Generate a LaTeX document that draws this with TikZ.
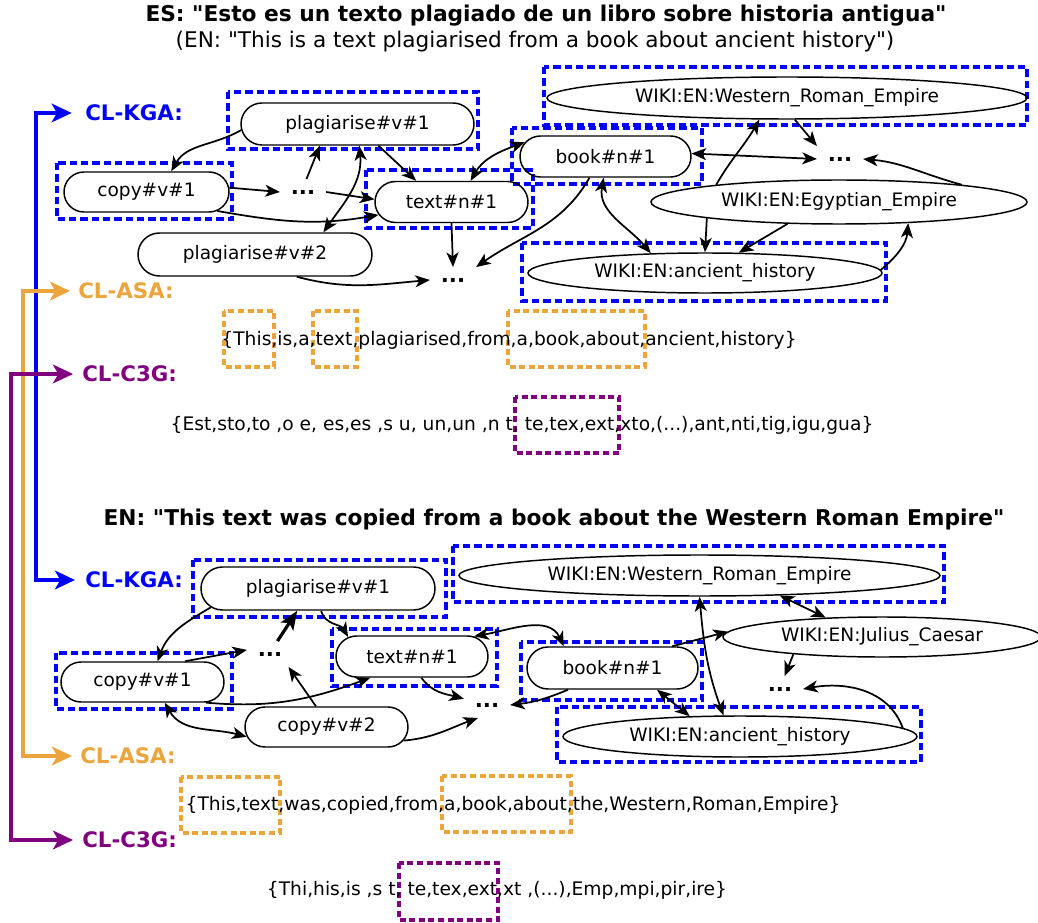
\documentclass[tikz,border=0pt]{standalone}
\usepackage{fontspec}
\setmainfont{DejaVu Sans}[Ligatures=TeXOff]
\usetikzlibrary{shapes.geometric, shapes.misc, arrows.meta, calc}
\definecolor{kgablue}{RGB}{0,0,255}
\definecolor{asaorange}{RGB}{235,165,60}
\definecolor{c3gpurple}{RGB}{128,0,128}

\begin{document}
\begin{tikzpicture}[x=0.75pt, y=-0.75pt,
        >={Stealth[length=11pt, width=9pt, inset=3pt]},
        sense/.style={draw, line width=1.1pt, rounded rectangle, inner sep=0pt, font=\fontsize{13.9}{16}\selectfont},
        page/.style={draw, line width=1.1pt, ellipse, inner sep=0pt, font=\fontsize{13.9}{16}\selectfont},
        dots/.style={inner sep=8pt, font=\fontsize{16}{18}\selectfont\bfseries},
        rel/.style={line width=1.3pt},
        method/.style={anchor=west, inner sep=0pt, font=\fontsize{16}{18}\selectfont\bfseries},
        bus/.style={line width=2.6pt, {Stealth[length=15pt, width=14pt, inset=4pt]}-{Stealth[length=15pt, width=14pt, inset=4pt]}},
        tokens/.style={font=\fontsize{14}{16}\selectfont},
        kgabox/.style={draw=kgablue, line width=2.5pt, dash pattern=on 5.5pt off 3pt},
        asabox/.style={draw=asaorange, line width=2.3pt, dash pattern=on 4.5pt off 2.7pt},
        c3gbox/.style={draw=c3gpurple, line width=2.3pt, dash pattern=on 4.5pt off 2.7pt}]
        \useasboundingbox (0,0) rectangle (1038,923);
        %titoli
        \node[font=\fontsize{16.3}{19}\selectfont\bfseries] (titleES) at (546,16) {ES: "Esto es un texto plagiado de un libro sobre historia antigua"};
        \node[font=\fontsize{16.2}{19}\selectfont] (titleTr) at (535,42) {(EN: "This is a text plagiarised from a book about ancient history")};
        \node[font=\fontsize{16.3}{19}\selectfont\bfseries] (titleEN) at (554,520) {EN: "This text was copied from a book about the Western Roman Empire"};
        %etichette dei metodi
        \node[method, kgablue] (kgaA) at (85,113) {CL-KGA:};
        \node[method, asaorange] (asaA) at (78,291) {CL-ASA:};
        \node[method, c3gpurple] (c3gA) at (82,374) {CL-C3G:};
        \node[method, kgablue] (kgaC) at (85,580) {CL-KGA:};
        \node[method, asaorange] (asaC) at (80,756) {CL-ASA:};
        \node[method, c3gpurple] (c3gC) at (82,840) {CL-C3G:};
        \draw[bus, kgablue, shorten <=10pt, shorten >=7.5pt] (kgaA.west) -- ++(-49,0) |- (kgaC.west);
        \draw[bus, asaorange, shorten <=6pt, shorten >=6pt] (asaA.west) -- ++(-55,0) |- (asaC.west);
        \draw[bus, c3gpurple, shorten <=6.75pt, shorten >=6.75pt] (c3gA.west) -- ++(-71,0) |- (c3gC.west);
        %riquadri KGA in alto
        \draw[kgabox] (228,92) rectangle (478,149);
        \draw[kgabox] (57,163) rectangle (232,219);
        \draw[kgabox] (366,170) rectangle (533,228);
        \draw[kgabox] (512,128) rectangle (702,184);
        \draw[kgabox] (544,67) rectangle (1027,125);
        \draw[kgabox] (522,243) rectangle (886,301);
        %grafo in alto
        \node[sense, minimum width=174.75pt, minimum height=31.5pt] (plagA) at (357.5,124) {plagiarise\#v\#1};
        \node[sense, minimum width=123.75pt, minimum height=30pt] (copyA) at (146.5,192) {copy\#v\#1};
        \node[sense, minimum width=114.75pt, minimum height=30.75pt] (textA) at (451.5,202) {text\#n\#1};
        \node[sense, minimum width=175.5pt, minimum height=32.25pt] (plagB) at (255,254.5) {plagiarise\#v\#2};
        \node[sense, minimum width=128.25pt, minimum height=30.75pt] (bookA) at (605.5,156.5) {book\#n\#1};
        \node[page, minimum width=360pt, minimum height=31.5pt] (wreA) at (787,98) {WIKI:EN:Western\_Roman\_Empire};
        \node[page, minimum width=282pt, minimum height=33pt] (egyA) at (839,202) {WIKI:EN:Egyptian\_Empire};
        \node[page, minimum width=265.5pt, minimum height=30pt] (ancA) at (705,273) {WIKI:EN:ancient\_history};
        \node[dots] (dotsA) at (303,192) {...};
        \node[dots] (dotsB) at (453,280) {...};
        \node[dots] (dotsC) at (840,159) {...};
        \draw[rel, ->] (plagA.183) to[out=210, in=60] (copyA.40);
        \draw[rel, ->] (copyA.3) -- (dotsA.west);
        \draw[rel, ->] (dotsA.75) -- (plagA.210);
        \draw[rel, ->] (dotsA.east) -- (textA.178);
        \draw[rel, ->] (copyA.-15) to[out=-10, in=190] (textA.190);
        \draw[rel, <->] (plagA.275) to[out=-85, in=55] (plagB.18);
        \draw[rel, ->] (plagA.-46) -- (textA.149);
        \draw[rel, <->] (textA.48) to[out=60, in=200] (bookA.170);
        \draw[rel, ->] (textA.south) -- (dotsB.north);
        \draw[rel, ->] (bookA.233) to[out=240, in=35] (dotsB.north east);
        \draw[rel, ->] (plagB.-28) to[out=-15, in=185] (dotsB.west);
        \draw[rel, <->] (bookA.2) -- (dotsC.west);
        \draw[rel, ->] (wreA.-70) -- (dotsC.north west);
        \draw[rel, ->] (egyA.172) to[out=60, in=240] (wreA.218);
        \draw[rel, ->] (egyA.8) to[out=165, in=-5] (dotsC.east);
        \draw[rel, <->] (bookA.265) to[out=-100, in=130] (ancA.160);
        \draw[rel, ->] (egyA.187) -- (ancA.north);
        \draw[rel, ->] (egyA.203) -- (ancA.31);
        \draw[rel, ->] (ancA.1) to[out=40, in=-95] (egyA.-17);
        %parole e trigrammi in alto
        \draw[asabox] (224,311) rectangle (274,367);
        \draw[asabox] (313,311) rectangle (357,367);
        \draw[asabox] (508,311) rectangle (645,367);
        \draw[c3gbox] (515,397) rectangle (619,453);
        \node[tokens] (asaWordsA) at (509,340) {\{This,is,a,text,plagiarised,from,a,book,about,ancient,history\}};
        \node[tokens] (c3gGramsA) at (522,425) {\{Est,sto,to ,o e, es,es ,s u, un,un ,n t, te,tex,ext,xto,(...),ant,nti,tig,igu,gua\}};
        %riquadri KGA in basso
        \draw[kgabox] (193,560) rectangle (446,617);
        \draw[kgabox] (56,653) rectangle (232,709);
        \draw[kgabox] (332,629) rectangle (497,686);
        \draw[kgabox] (453,546) rectangle (944,602);
        \draw[kgabox] (521,642) rectangle (702,700);
        \draw[kgabox] (557,707) rectangle (921,762);
        %grafo in basso
        \node[sense, minimum width=175.5pt, minimum height=32.25pt] (plagC) at (318,588.5) {plagiarise\#v\#1};
        \node[sense, minimum width=122.25pt, minimum height=30pt] (copyC) at (142.5,682) {copy\#v\#1};
        \node[sense, minimum width=114pt, minimum height=30.75pt] (textC) at (412,656.5) {text\#n\#1};
        \node[sense, minimum width=122.25pt, minimum height=30pt] (copyD) at (326.5,727) {copy\#v\#2};
        \node[sense, minimum width=128.25pt, minimum height=31.5pt] (bookC) at (612.5,668) {book\#n\#1};
        \node[page, minimum width=360.75pt, minimum height=30.75pt] (wreC) at (699.5,575.5) {WIKI:EN:Western\_Roman\_Empire};
        \node[page, minimum width=238.5pt, minimum height=30pt] (julC) at (882,637) {WIKI:EN:Julius\_Caesar};
        \node[page, minimum width=265.5pt, minimum height=30.75pt] (ancC) at (740,736.5) {WIKI:EN:ancient\_history};
        \node[dots] (dotsD) at (270,654) {...};
        \node[dots] (dotsE) at (487,705) {...};
        \node[dots] (dotsF) at (780,689) {...};
        \draw[rel, ->] (plagC.190) to[out=210, in=70] (copyC.54);
        \draw[rel, ->] (copyC.26) -- (dotsD.170);
        \draw[line width=2.4pt, -{Stealth[length=14pt, width=11pt, inset=3pt]}] (dotsD.60) -- (plagC.227);
        \draw[rel, ->] (plagC.278) to[out=-75, in=120] (textC.163);
        \draw[rel, ->] (copyD.117) -- (dotsD.-35);
        \draw[rel, ->] (copyC.-18) to[out=-5, in=200] (textC.207);
        \draw[rel, <->] (copyC.-43) to[out=-60, in=165] (copyD.187);
        \draw[rel, ->] (copyD.-10) to[out=5, in=200] (dotsE.235);
        \draw[rel, ->] (textC.-66) to[out=-55, in=165] (dotsE.165);
        \draw[rel, <->] (textC.18) to[out=10, in=115] (bookC.156);
        \draw[rel, ->] (bookC.206) to[bend left=8] (dotsE.east);
        \draw[rel, ->] (bookC.20) -- (julC.178);
        \draw[rel, <->] (wreC.-14) -- (julC.161);
        \draw[rel, <->] (wreC.south) to[out=-85, in=110] (ancC.128);
        \draw[rel, <->] (bookC.-26) -- (ancC.158);
        \draw[rel, ->] (julC.191) -- (dotsF.70);
        \draw[rel, ->] (ancC.3) to[out=110, in=10] (dotsF.east);
        %parole e trigrammi in basso
        \draw[asabox] (181,777) rectangle (280,833);
        \draw[asabox] (442,776) rectangle (571,832);
        \draw[c3gbox] (399,863) rectangle (498,920);
        \node[tokens] (asaWordsC) at (513,805) {\{This,text,was,copied,from,a,book,about,the,Western,Roman,Empire\}};
        \node[tokens] (c3gGramsC) at (497,890) {\{Thi,his,is ,s t, te,tex,ext,xt ,(...),Emp,mpi,pir,ire\}};
    \end{tikzpicture}
\end{document}
